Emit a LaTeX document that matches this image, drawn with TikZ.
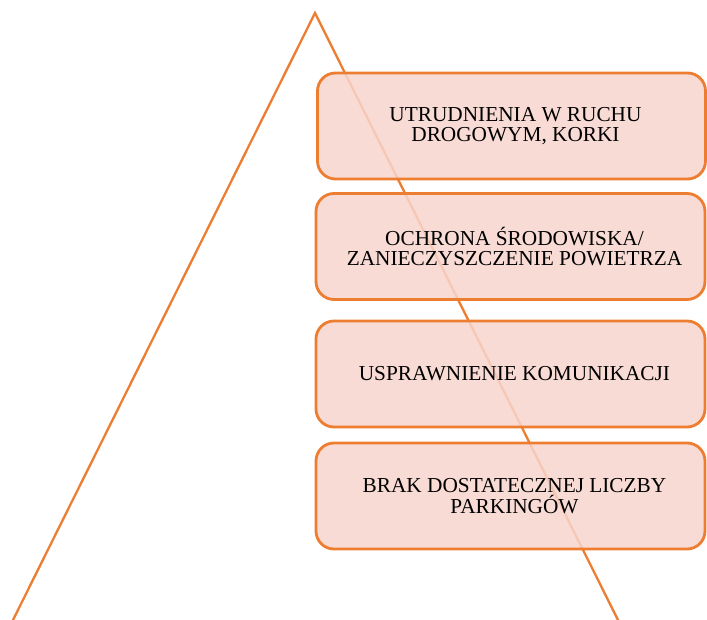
\documentclass[tikz,border=0pt]{standalone}
\usepackage{fontspec}
\setmainfont{Liberation Serif}
\usetikzlibrary{calc}
\definecolor{accent}{RGB}{237,125,49}
\definecolor{boxfill}{RGB}{247,213,204}
\begin{document}
\begin{tikzpicture}[x=1pt,y=-1pt,
  box/.style={draw=accent, line width=2.8pt, fill=boxfill, fill opacity=0.85,
    rounded corners=18pt, minimum width=389pt, minimum height=106pt, inner sep=0pt},
  txt/.style={align=center, font=\fontsize{21.3}{20.6}\selectfont, text=black, inner sep=0pt},
  tri/.style={draw=accent, line width=2.3pt}]
\useasboundingbox (0,0) rectangle (707,620);
\coordinate (apex) at (315,13);
\coordinate (bl) at (11,624);
\coordinate (br) at (620,624);
\draw[tri] (bl) -- (apex) -- (br);
\node[box, minimum width=388pt] (b1) at (511.5,126) {};
\node[box] (b2) at (510.5,246.5) {};
\node[box] (b3) at (510.5,374) {};
\node[box] (b4) at (510.5,496) {};
\node[txt] (t1) at ($(b1.center)+(4,0)$) {UTRUDNIENIA W RUCHU\\DROGOWYM, KORKI};
\node[txt] (t2) at ($(b2.center)+(4,0)$) {OCHRONA ŚRODOWISKA/\\ZANIECZYSZCZENIE POWIETRZA};
\node[txt] (t3) at ($(b3.center)+(4,0)$) {USPRAWNIENIE KOMUNIKACJI};
\node[txt] (t4) at ($(b4.center)+(4,0)$) {BRAK DOSTATECZNEJ LICZBY\\PARKINGÓW};
\end{tikzpicture}
\end{document}
